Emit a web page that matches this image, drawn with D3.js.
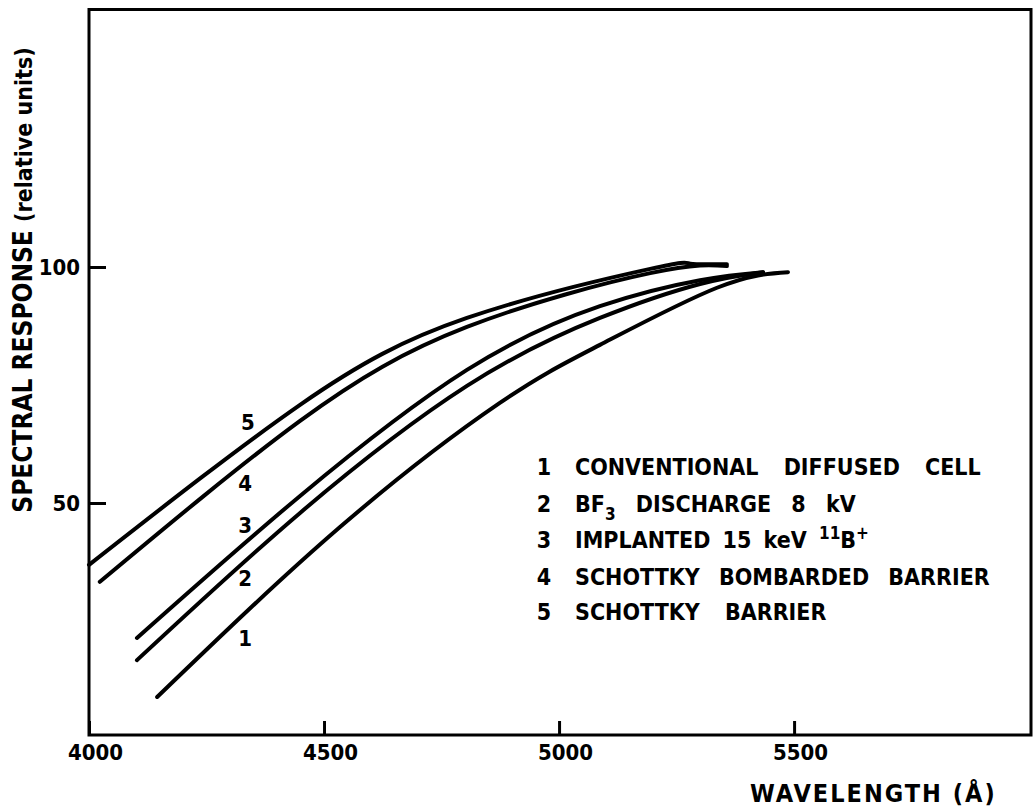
<!DOCTYPE html>
<html>
<head>
<meta charset="utf-8">
<script src="https://cdn.jsdelivr.net/npm/d3@7"></script>
<style>
  body { margin: 0; background: #fff; }
  svg { display: block; }
  text { font-family: "DejaVu Sans Condensed", "DejaVu Sans", sans-serif; font-weight: bold; fill: #000; }
</style>
</head>
<body>
<div id="container"></div>
<script>
// wavelength (Angstrom) and spectral response (relative units)
const wl1 = [4145, 4534, 4874, 5087, 5336, 5487];
const resp1 = [8.9, 44.9, 71.2, 83.5, 95.6, 98.9];

const wl2 = [4102, 4449, 4804, 5087, 5300, 5434];
const resp2 = [16.7, 47.9, 74.8, 89.2, 96.4, 98.9];

const wl3 = [4102, 4449, 4804, 5087, 5300, 5434];
const resp3 = [21.4, 51.5, 78.2, 91.7, 97.2, 98.9];

const wl4 = [4023, 4449, 4804, 5194, 5357];
const resp4 = [33.3, 67.4, 87.3, 98.7, 100.2];

const wl5 = [4000, 4449, 4804, 5194, 5279, 5357];
const resp5 = [36.9, 70.8, 89.2, 99.6, 100.7, 100.6];

const curveIds = ["1", "2", "3", "4", "5"];
const legendLabels = [
  [["CONVENTIONAL DIFFUSED CELL"]],
  [["BF"], ["3", "sub"], [" DISCHARGE 8 kV"]],
  [["IMPLANTED 15 keV "], ["11", "sup"], ["B"], ["+", "sup"]],
  [["SCHOTTKY BOMBARDED BARRIER"]],
  [["SCHOTTKY BARRIER"]]
];
const xTicks = [4000, 4500, 5000, 5500];
const yTicks = [50, 100];

const w = 1035;
const h = 808;
const plotLeft = 89, plotRight = 1031, plotTop = 9.5, plotBottom = 735;

const xScale = d3.scaleLinear().domain([4000, 6004]).range([plotLeft, plotRight]);
const yScale = d3.scaleLinear().domain([0.85, 154.55]).range([plotBottom, plotTop]);

const svg = d3
  .select("#container")
  .append("svg")
  .attr("width", w)
  .attr("height", h);

const series = [
  [wl1, resp1], [wl2, resp2], [wl3, resp3], [wl4, resp4], [wl5, resp5]
].map(([xs, ys], i) => ({ id: curveIds[i], pts: xs.map((x, j) => [x, ys[j]]) }));

const line = d3
  .line()
  .x((d) => xScale(d[0]))
  .y((d) => yScale(d[1]))
  .curve(d3.curveNatural);

svg
  .append("g")
  .selectAll("path")
  .data(series)
  .enter()
  .append("path")
  .attr("d", (d) => line(d.pts))
  .attr("fill", "none")
  .attr("stroke", "#000")
  .attr("stroke-width", 4)
  .attr("stroke-linecap", "round");

// frame
svg
  .append("rect")
  .attr("x", plotLeft)
  .attr("y", plotTop)
  .attr("width", plotRight - plotLeft)
  .attr("height", plotBottom - plotTop)
  .attr("fill", "none")
  .attr("stroke", "#000")
  .attr("stroke-width", 3);

const xAxis = svg
  .append("g")
  .attr("transform", "translate(0," + plotBottom + ")")
  .call(d3.axisBottom(xScale).tickValues(xTicks).tickFormat(d3.format("d")).tickSizeInner(-14).tickSizeOuter(0).tickPadding(9));

const yAxis = svg
  .append("g")
  .attr("transform", "translate(" + plotLeft + ",0)")
  .call(d3.axisLeft(yScale).tickValues(yTicks).tickSizeInner(-17).tickSizeOuter(0).tickPadding(9));

[xAxis, yAxis].forEach((g) => {
  g.select(".domain").remove();
  g.selectAll(".tick line").attr("stroke", "#000").attr("stroke-width", 3);
  g.selectAll(".tick text")
    .style("font-family", '"DejaVu Sans Condensed", "DejaVu Sans", sans-serif')
    .style("font-weight", "bold")
    .style("font-size", "22px")
    .attr("fill", "#000");
});
xAxis.selectAll(".tick text").attr("dx", 6);

// curve numbers, placed beside the curves
const numberPos = [
  [4332, 21.4], [4332, 34.1], [4332, 45.3], [4332, 54.2], [4338, 67.2]
];
svg
  .selectAll("text.num")
  .data(curveIds)
  .enter()
  .append("text")
  .attr("class", "num")
  .attr("x", (d, i) => xScale(numberPos[i][0]))
  .attr("y", (d, i) => yScale(numberPos[i][1]))
  .attr("dy", "0.36em")
  .attr("text-anchor", "middle")
  .style("font-size", "22px")
  .text((d) => d);

// legend
const legend = svg.append("g").style("font-size", "23px");
const rowY = [475, 512, 548, 585, 620];
const rowSpacing = [18, 13, 5, 12, 18];
const shift = { sub: 8, sup: -9 };
legendLabels.forEach((parts, i) => {
  legend
    .append("text")
    .attr("x", 544)
    .attr("y", rowY[i])
    .attr("text-anchor", "middle")
    .text(curveIds[i]);
  const t = legend
    .append("text")
    .attr("x", 575)
    .attr("y", rowY[i])
    .style("word-spacing", rowSpacing[i] + "px");
  let offset = 0;
  parts.forEach(([s, kind]) => {
    const target = kind ? shift[kind] : 0;
    const ts = t.append("tspan").text(s).attr("dy", target - offset);
    if (kind) ts.style("font-size", "17px");
    offset = target;
  });
});

// axis titles
const yTitle = svg
  .append("text")
  .attr("transform", "translate(32,280) rotate(-90)")
  .attr("text-anchor", "middle");
yTitle.append("tspan").style("font-size", "26px").text("SPECTRAL RESPONSE ");
yTitle.append("tspan").style("font-size", "23px").text("(relative units)");

svg
  .append("text")
  .attr("x", 750)
  .attr("y", 802)
  .style("font-size", "25px")
  .style("letter-spacing", "2px")
  .text("WAVELENGTH (Å)");
</script>
</body>
</html>
